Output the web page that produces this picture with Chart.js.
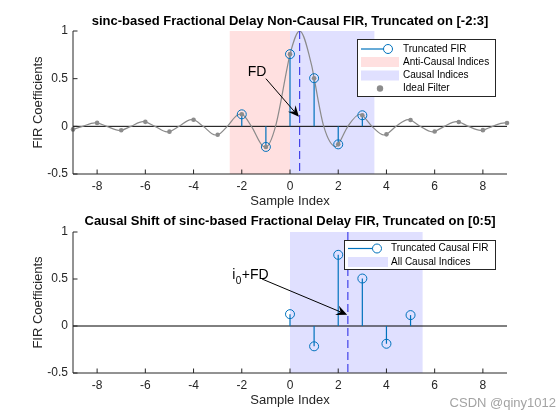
<!DOCTYPE html>
<html>
<head>
<meta charset="utf-8">
<script src="https://cdn.jsdelivr.net/npm/chart.js@4.4.1/dist/chart.umd.min.js"></script>
<style>
  body { margin: 0; background: #fff; }
  #wrap { position: relative; width: 560px; height: 420px; overflow: hidden; }
  #wrap canvas { position: absolute; left: 0; }
  #c1 { top: 0; }
  #c2 { top: 210px; }
  #mark { position: absolute; right: 4px; top: 395px; font: 13px "Liberation Sans", Arial, sans-serif; color: #a3a3a3; }
</style>
</head>
<body>
<div id="wrap">
  <canvas id="c1" width="560" height="210"></canvas>
  <canvas id="c2" width="560" height="210"></canvas>
  <div id="mark">CSDN @qiny1012</div>
</div>
<script>
// ideal sinc curve (zero crossings, lobe tops, samples)
var idealX = [-9, -8.6, -8.1, -8, -7.6, -7.1, -7, -6.6, -6.1, -6, -5.6, -5.1, -5, -4.6, -4.1, -4,
  -3.6, -3.1, -3, -2.6, -2.1, -2, -1.6, -1.1, -1, -0.6, -0.1, 0, 0.4, 0.9, 1, 1.4, 1.9, 2,
  2.4, 2.9, 3, 3.4, 3.9, 4, 4.4, 4.9, 5, 5.4, 5.9, 6, 6.4, 6.9, 7, 7.4, 7.9, 8, 8.4, 8.9, 9];
var idealY = [-0.032, 0, 0.037, 0.036, 0, -0.042, -0.041, 0, 0.049, 0.047, 0, -0.058, -0.056, 0, 0.071, 0.069,
  0, -0.091, -0.089, 0, 0.127, 0.126, 0, -0.212, -0.216, 0, 0.637, 0.757, 1, 0.637, 0.505, 0, -0.212, -0.189,
  0, 0.127, 0.116, 0, -0.091, -0.084, 0, 0.071, 0.066, 0, -0.058, -0.054, 0, 0.049, 0.046, 0, -0.042, -0.040, 0, 0.037, 0.035];

// grey dots at the integer samples
var sampleN = [-9, -8, -7, -6, -5, -4, -3, -2, -1, 0, 1, 2, 3, 4, 5, 6, 7, 8, 9];
var sampleH = [-0.032, 0.036, -0.041, 0.047, -0.056, 0.069, -0.089, 0.126, -0.216, 0.757, 0.505, -0.189, 0.116, -0.084, 0.066, -0.054, 0.046, -0.040, 0.035];

// truncated FIR on [-2:3]
var truncN = [-2, -1, 0, 1, 2, 3];
var truncH = [0.126, -0.216, 0.757, 0.505, -0.189, 0.116];

// causal shifted FIR on [0:5]
var causalN = [0, 1, 2, 3, 4, 5];
var causalH = [0.126, -0.216, 0.757, 0.505, -0.189, 0.116];

var fracDelay = 0.4;
var causalDelay = 2.4;

var xTicks = [-8, -6, -4, -2, 0, 2, 4, 6, 8];
var yTicks = [-0.5, 0, 0.5, 1];

var FONT = '"Liberation Sans", Arial, Helvetica, sans-serif';
var AXIS_COLOR = '#262626';
var STEM_COLOR = '#0072BD';
var PINK = 'rgb(255,224,224)';
var LILAC = 'rgb(224,224,255)';

function arrow(ctx, x0, y0, x1, y1) {
  var dx = x1 - x0, dy = y1 - y0;
  var len = Math.sqrt(dx * dx + dy * dy);
  var ux = dx / len, uy = dy / len;
  var L = 11, W = 5;
  var bx = x1 - ux * L, by = y1 - uy * L;
  var nx = x1 - ux * L * 0.65, ny = y1 - uy * L * 0.65;
  ctx.strokeStyle = '#000';
  ctx.lineWidth = 1;
  ctx.beginPath();
  ctx.moveTo(x0, y0);
  ctx.lineTo(nx, ny);
  ctx.stroke();
  ctx.fillStyle = '#000';
  ctx.beginPath();
  ctx.moveTo(x1, y1);
  ctx.lineTo(bx - uy * W, by + ux * W);
  ctx.lineTo(nx, ny);
  ctx.lineTo(bx + uy * W, by - ux * W);
  ctx.closePath();
  ctx.fill();
}

function makeDecor(spec) {
  return {
    id: 'decor',
    beforeDatasetsDraw: function (chart) {
      var ctx = chart.ctx, a = chart.chartArea;
      var sx = chart.scales.x, sy = chart.scales.y;
      ctx.save();
      spec.patches.forEach(function (p) {
        var l = sx.getPixelForValue(p.from), r = sx.getPixelForValue(p.to);
        ctx.fillStyle = p.color;
        ctx.fillRect(l, a.top, r - l, a.bottom - a.top);
      });
      var y0 = sy.getPixelForValue(0);
      ctx.strokeStyle = '#000';
      ctx.lineWidth = 1;
      ctx.beginPath();
      ctx.moveTo(a.left, y0);
      ctx.lineTo(a.right, y0);
      ctx.stroke();
      ctx.strokeStyle = STEM_COLOR;
      ctx.lineWidth = 1.2;
      spec.stemX.forEach(function (n, i) {
        var x = sx.getPixelForValue(n);
        ctx.beginPath();
        ctx.moveTo(x, y0);
        ctx.lineTo(x, sy.getPixelForValue(spec.stemY[i]));
        ctx.stroke();
      });
      ctx.restore();
    },
    afterDatasetsDraw: function (chart) {
      var ctx = chart.ctx, a = chart.chartArea;
      var sx = chart.scales.x, sy = chart.scales.y;
      ctx.save();
      // delay marker
      var xd = sx.getPixelForValue(spec.delay);
      ctx.strokeStyle = '#3434e6';
      ctx.lineWidth = 1.1;
      ctx.setLineDash([8, 4]);
      ctx.beginPath();
      ctx.moveTo(xd, a.top);
      ctx.lineTo(xd, a.bottom);
      ctx.stroke();
      ctx.setLineDash([]);
      // annotation
      arrow(ctx, sx.getPixelForValue(spec.arrow[0]), sy.getPixelForValue(spec.arrow[1]),
        sx.getPixelForValue(spec.arrow[2]), sy.getPixelForValue(spec.arrow[3]));
      var lx = sx.getPixelForValue(spec.label.x), ly = sy.getPixelForValue(spec.label.y);
      ctx.fillStyle = '#000';
      ctx.textBaseline = 'middle';
      ctx.textAlign = 'left';
      ctx.font = '14px ' + FONT;
      ctx.fillText(spec.label.main, lx, ly);
      if (spec.label.sub) {
        var w = ctx.measureText(spec.label.main).width;
        ctx.font = '10px ' + FONT;
        ctx.fillText(spec.label.sub, lx + w + 0.5, ly + 6);
        var w2 = ctx.measureText(spec.label.sub).width;
        ctx.font = '14px ' + FONT;
        ctx.fillText(spec.label.after, lx + w + w2 + 1, ly);
      }
      // legend
      var b = spec.legend.box;
      ctx.fillStyle = '#fff';
      ctx.fillRect(b[0], b[1], b[2], b[3]);
      ctx.strokeStyle = '#262626';
      ctx.lineWidth = 1;
      ctx.strokeRect(b[0] + 0.5, b[1] + 0.5, b[2], b[3]);
      spec.legend.items.forEach(function (it) {
        if (it.kind === 'stem') {
          ctx.strokeStyle = STEM_COLOR;
          ctx.lineWidth = 1.2;
          ctx.beginPath();
          ctx.moveTo(it.x0, it.y);
          ctx.lineTo(it.x1 - 4.5, it.y);
          ctx.stroke();
          ctx.lineWidth = 1;
          ctx.beginPath();
          ctx.arc(it.x1, it.y, 4.5, 0, Math.PI * 2);
          ctx.stroke();
        } else if (it.kind === 'patch') {
          ctx.fillStyle = it.color;
          ctx.fillRect(it.x0, it.y - 5, it.x1 - it.x0, 10);
        } else {
          ctx.fillStyle = '#8c8c8c';
          ctx.beginPath();
          ctx.arc(it.x0, it.y, 3.2, 0, Math.PI * 2);
          ctx.fill();
        }
        ctx.fillStyle = '#000';
        ctx.font = '10px ' + FONT;
        ctx.textAlign = 'left';
        ctx.textBaseline = 'middle';
        ctx.fillText(it.text, it.tx, it.y);
      });
      ctx.restore();
    },
    afterDraw: function (chart) {
      var ctx = chart.ctx, a = chart.chartArea;
      var sx = chart.scales.x, sy = chart.scales.y;
      ctx.save();
      ctx.strokeStyle = AXIS_COLOR;
      ctx.lineWidth = 1;
      ctx.beginPath();
      ctx.moveTo(a.left, a.top);
      ctx.lineTo(a.left, a.bottom);
      ctx.lineTo(a.right, a.bottom);
      xTicks.forEach(function (v) {
        var x = sx.getPixelForValue(v);
        ctx.moveTo(x, a.bottom);
        ctx.lineTo(x, a.bottom - 4.5);
      });
      yTicks.forEach(function (v) {
        var y = sy.getPixelForValue(v);
        ctx.moveTo(a.left, y);
        ctx.lineTo(a.left + 4.5, y);
      });
      ctx.stroke();
      ctx.fillStyle = '#000';
      ctx.textAlign = 'center';
      ctx.textBaseline = 'middle';
      ctx.font = 'bold 13px ' + FONT;
      ctx.fillText(spec.title, (a.left + a.right) / 2, spec.titleY);
      ctx.fillStyle = AXIS_COLOR;
      ctx.font = '13px ' + FONT;
      ctx.fillText('Sample Index', (a.left + a.right) / 2, spec.xLabelY);
      ctx.translate(38, (a.top + a.bottom) / 2);
      ctx.rotate(-Math.PI / 2);
      ctx.fillText('FIR Coefficients', 0, 0);
      ctx.restore();
    }
  };
}

function scalesFor(bottomH) {
  return {
    x: {
      type: 'linear', min: -9, max: 9,
      afterFit: function (s) { s.height = bottomH; },
      afterBuildTicks: function (s) { s.ticks = xTicks.map(function (v) { return { value: v }; }); },
      grid: { display: false, drawTicks: false },
      border: { display: false },
      ticks: { padding: 5, color: AXIS_COLOR, font: { family: FONT, size: 12 }, callback: function (v) { return String(v); } }
    },
    y: {
      type: 'linear', min: -0.5, max: 1,
      afterFit: function (s) { s.width = 73; },
      afterBuildTicks: function (s) { s.ticks = yTicks.map(function (v) { return { value: v }; }); },
      grid: { display: false, drawTicks: false },
      border: { display: false },
      ticks: { padding: 5, color: AXIS_COLOR, font: { family: FONT, size: 12 }, callback: function (v) { return String(v); } }
    }
  };
}

function pts(xs, ys) {
  return xs.map(function (x, i) { return { x: x, y: ys[i] }; });
}

var topSpec = {
  title: 'sinc-based Fractional Delay Non-Causal FIR, Truncated on [-2:3]',
  titleY: 21, xLabelY: 201.5,
  patches: [{ from: -2.5, to: 0, color: PINK }, { from: 0, to: 3.5, color: LILAC }],
  stemX: truncN, stemY: truncH, delay: fracDelay,
  arrow: [-1.0, 0.50, 0.37, 0.10],
  label: { x: -1.75, y: 0.57, main: 'FD' },
  legend: {
    box: [357, 39, 138, 57],
    items: [
      { kind: 'stem', y: 49, x0: 361, x1: 388, tx: 403, text: 'Truncated FIR' },
      { kind: 'patch', y: 62, x0: 361, x1: 399, color: PINK, tx: 403, text: 'Anti-Causal Indices' },
      { kind: 'patch', y: 75.5, x0: 361, x1: 399, color: LILAC, tx: 403, text: 'Causal Indices' },
      { kind: 'dot', y: 88.5, x0: 380, tx: 403, text: 'Ideal Filter' }
    ]
  }
};

var bottomSpec = {
  title: 'Causal Shift of sinc-based Fractional Delay FIR, Truncated on [0:5]',
  titleY: 11.5, xLabelY: 190.5,
  patches: [{ from: 0, to: 5.5, color: LILAC }],
  stemX: causalN, stemY: causalH, delay: causalDelay,
  arrow: [-1.16, 0.50, 2.37, 0.12],
  label: { x: -2.4, y: 0.54, main: 'i', sub: '0', after: '+FD' },
  legend: {
    box: [344, 30, 151, 29],
    items: [
      { kind: 'stem', y: 38.5, x0: 348, x1: 377, tx: 391, text: 'Truncated Causal FIR' },
      { kind: 'patch', y: 52, x0: 348, x1: 388, color: LILAC, tx: 391, text: 'All Causal Indices' }
    ]
  }
};

new Chart(document.getElementById('c1'), {
  type: 'scatter',
  data: {
    datasets: [
      { data: pts(truncN, truncH), pointRadius: 4.5, pointBackgroundColor: 'rgba(0,0,0,0)', borderColor: STEM_COLOR, pointBorderWidth: 1, clip: false },
      { data: pts(sampleN, sampleH), pointRadius: 2.3, pointBackgroundColor: '#8c8c8c', pointBorderWidth: 0, clip: false },
      { data: pts(idealX, idealY), showLine: true, pointRadius: 0, borderColor: '#8a8a8a', borderWidth: 1.2, cubicInterpolationMode: 'monotone' }
    ]
  },
  options: {
    responsive: false,
    animation: false,
    layout: { padding: { left: 0, right: 53, top: 31, bottom: 0 } },
    plugins: { legend: { display: false }, tooltip: { enabled: false } },
    scales: scalesFor(36)
  },
  plugins: [makeDecor(topSpec)]
});

new Chart(document.getElementById('c2'), {
  type: 'scatter',
  data: {
    datasets: [
      { data: pts(causalN, causalH), pointRadius: 4.5, pointBackgroundColor: 'rgba(0,0,0,0)', borderColor: STEM_COLOR, pointBorderWidth: 1, clip: false }
    ]
  },
  options: {
    responsive: false,
    animation: false,
    layout: { padding: { left: 0, right: 53, top: 22, bottom: 0 } },
    plugins: { legend: { display: false }, tooltip: { enabled: false } },
    scales: scalesFor(47)
  },
  plugins: [makeDecor(bottomSpec)]
});
</script>
</body>
</html>
